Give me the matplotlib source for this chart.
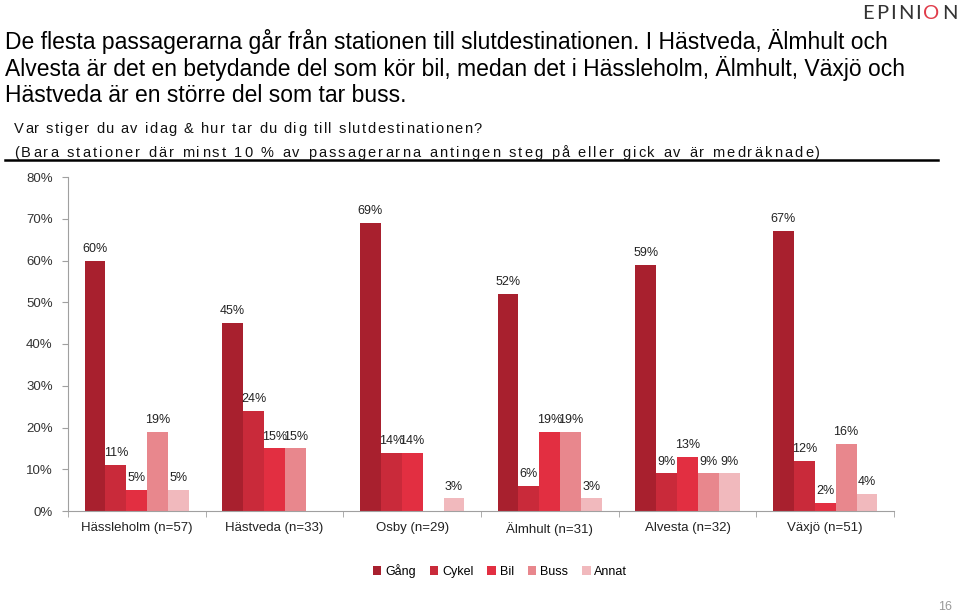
import numpy as np
import matplotlib.pyplot as plt
from matplotlib.patches import Patch
from matplotlib.textpath import TextToPath
from matplotlib.font_manager import FontProperties

plt.rcParams['font.family'] = ['Liberation Sans', 'DejaVu Sans']

# stations and travel modes
stations = ['Hässleholm (n=57)', 'Hästveda (n=33)', 'Osby (n=29)',
            'Älmhult (n=31)', 'Alvesta (n=32)', 'Växjö (n=51)']
modes = ['Gång', 'Cykel', 'Bil', 'Buss', 'Annat']

# percent per mode (None = no bar / no label)
gang = [60, 45, 69, 52, 59, 67]
cykel = [11, 24, 14, 6, 9, 12]
bil = [5, 15, 14, 19, 13, 2]
buss = [19, 15, None, 19, 9, 16]
annat = [5, None, 3, 3, 9, 4]

colors = ['#a8202e', '#c92a3a', '#e22f41', '#e8878d', '#f1b9bd']

W, H = 960, 613
fig = plt.figure(figsize=(9.6, 6.13), dpi=100)
ax = fig.add_axes([68 / W, 1 - 511 / H, 826 / W, 334 / H])

ttp = TextToPath()


def text_width_px(s, prop):
    # ink width of s in pixels; 'x' trick keeps trailing spaces
    w1 = ttp.get_text_width_height_descent(s + 'x', prop, ismath=False)[0]
    w0 = ttp.get_text_width_height_descent('x', prop, ismath=False)[0]
    return (w1 - w0) * 100 / 72


def spaced_text(x0, y0, s, size, target, family='Liberation Sans', colors_per_char=None, **kw):
    # letter-spaced text stretched to a target width (pixels)
    prop = FontProperties(family=family, size=size)
    full = ttp.get_text_width_height_descent(s, prop, ismath=False)[0] * 100 / 72
    gap = (target - full) / max(len(s) - 1, 1)
    for k, ch in enumerate(s):
        xx = x0 + text_width_px(s[:k], prop) + k * gap if k else x0
        c = colors_per_char[k] if colors_per_char else kw.get('color', 'black')
        fig.text(xx / W, 1 - y0 / H, ch, fontsize=size, family=family, ha='left',
                 va='baseline', color=c)


x = np.arange(len(stations))
w = 0.152
for j, (vals, col) in enumerate(zip([gang, cykel, bil, buss, annat], colors)):
    for i, v in enumerate(vals):
        if v is None:
            continue
        xpos = x[i] + (j - 2) * w
        ax.bar(xpos, v, width=w, color=col, linewidth=0)
        ax.text(xpos, v + 1.4, f'{v}%', ha='center', va='bottom', fontsize=9, color='#222222')

ax.set_xlim(-0.5, len(stations) - 0.5)
ax.set_ylim(0, 80)
ax.set_yticks(np.arange(0, 81, 10))
ax.set_yticklabels([f'{t}%' for t in range(0, 81, 10)], fontsize=9.5, color='#333333')
ax.set_xticks(x)
ax.set_xticklabels(stations, fontsize=9.5, color='#222222')
ax.set_xticks(np.arange(-0.5, len(stations)), minor=True)
ax.tick_params(axis='x', which='major', length=0, pad=8)
ax.tick_params(axis='x', which='minor', length=4, color='#a0a0a0')
ax.tick_params(axis='y', length=4, color='#a0a0a0', pad=7)
for s in ['top', 'right']:
    ax.spines[s].set_visible(False)
for s in ['left', 'bottom']:
    ax.spines[s].set_color('#a0a0a0')

# legend
handles = [Patch(facecolor=c, edgecolor='none') for c in colors]
fig.legend(handles, modes, loc='center', bbox_to_anchor=(500 / W, 1 - 571 / H), ncol=5,
           frameon=False, fontsize=9, handlelength=0.7, handleheight=0.7,
           handletextpad=0.3, columnspacing=1.1)

# heading
heading = ['De flesta passagerarna går från stationen till slutdestinationen. I Hästveda, Älmhult och',
           'Alvesta är det en betydande del som kör bil, medan det i Hässleholm, Älmhult, Växjö och',
           'Hästveda är en större del som tar buss.']
for line, base in zip(heading, [49, 76, 102]):
    fig.text(5 / W, 1 - base / H, line, fontsize=16.45, va='baseline', ha='left', color='black')

spaced_text(14, 133, 'Var stiger du av idag & hur tar du dig till slutdestinationen?', 10.5, 468,
            color='#111111')
spaced_text(14, 157, '(Bara stationer där minst 10 % av passagerarna antingen steg på eller gick av är medräknade)',
            10.5, 806, color='#111111')
fig.add_artist(plt.Line2D([5 / W, 938 / W], [1 - 160.5 / H] * 2, color='black', linewidth=1.8))

# logo and page number
logo_cols = ['#333333'] * 5 + ['#e03c4a', '#333333']
spaced_text(862, 19, 'EPINION', 14.5, 95, family='Lato', colors_per_char=logo_cols)
fig.text(945 / W, 1 - 607 / H, '16', fontsize=9, color='#999999', va='center', ha='center')

fig.savefig('out.png', dpi=100)
